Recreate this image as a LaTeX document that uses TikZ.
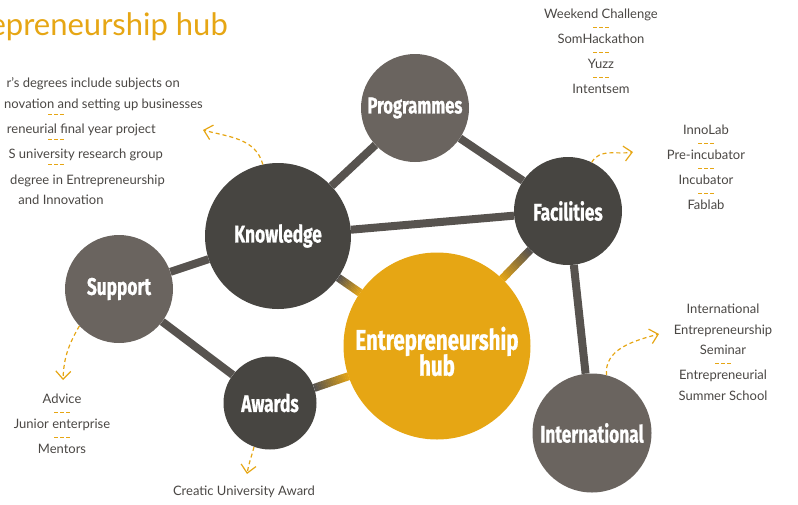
\documentclass[tikz,border=0pt]{standalone}
\usepackage{fontspec}
\setmainfont{Lato}
\newfontfamily\topicfont[FakeStretch=0.72, BoldFeatures={FakeBold=0.8}]{Fira Sans}
\usetikzlibrary{positioning,arrows.meta,backgrounds,calc}

\definecolor{hubgold}{HTML}{E6A614}
\definecolor{darknode}{HTML}{474541}
\definecolor{lightnode}{HTML}{6A645F}
\definecolor{linkgray}{HTML}{57534F}
\definecolor{itemgray}{HTML}{4A4744}

\newcommand{\dashsep}{{\color{hubgold}\rule[2.8pt]{4pt}{1.5pt}\hspace{2pt}\rule[2.8pt]{4pt}{1.5pt}\hspace{2pt}\rule[2.8pt]{4pt}{1.5pt}}}

\begin{document}
\begin{tikzpicture}[
      x=1pt, y=1pt,
      topic/.style = {
        circle,
        inner sep=0pt,
        text=white,
        align=center,
        font=\topicfont\bfseries\fontsize{24}{24}\selectfont
      },
      dark/.style = {
        topic,
        fill=darknode
      },
      light/.style = {
        topic,
        fill=lightnode
      },
      link/.style = {
        line width=8pt,
        draw=linkgray
      },
      hint/.style = {
        draw=hubgold,
        line width=1.2pt,
        dash pattern=on 4pt off 3pt,
        -{Straight Barb[length=8pt,width=15pt]}
      },
      item/.style = {
        text=itemgray,
        align=center,
        inner sep=0pt,
        font=\fontsize{13}{20.5}\selectfont
      }
    ]
    \useasboundingbox (0,0) rectangle (798,-504);
    \clip (0,0) rectangle (798,-504);

    % title, cut at the left edge
    \node[anchor=base east, inner sep=0pt, text=hubgold,
      font=\fontsize{31}{31}\selectfont] (title) at (228,-35) {Entrepreneurship hub};

    % circles
    \node[light, minimum size=108pt, font=\topicfont\bfseries\fontsize{23}{23}\selectfont]
      (p) at (415,-108) {Programmes};
    \node[dark, minimum size=146pt] (k) at (278,-236) {Knowledge};
    \node[dark, minimum size=108pt] (f) at (568,-211) {Facilities};
    \node[light, minimum size=108pt] (s) at (119,-289) {Support};
    \node[dark, minimum size=93pt] (w) at (270,-403) {Awards};
    \node[light, minimum size=119pt] (i) at (592,-433) {International};
    \node[topic, fill=hubgold, minimum size=187pt, font=\topicfont\bfseries\fontsize{28.5}{25}\selectfont]
      (hub) at (437,-346) {\rule{0pt}{34pt}Entrepreneurship\\[-3pt]hub};

    % links
    \begin{scope}[on background layer]
      \draw[link] (p) -- (k);
      \draw[link] (p) -- (f);
      \draw[link] (k) -- (f);
      \draw[link] (k) -- (s);
      \draw[link] (s) -- (w);
      \draw[link] (f) -- (i);
      \foreach \a in {k,f,w} {
        \path (\a) -- (hub) coordinate[pos=0] (\a0) coordinate[pos=1] (\a1);
        \foreach \i [evaluate=\i as \mix using int(\i*5)] in {0,...,19}
          \draw[line width=8pt, draw=hubgold!\mix!linkgray]
            ($(\a0)!\i/20!(\a1)$) -- ($(\a0)!\i/20+0.06!(\a1)$);
      }
    \end{scope}

    % lists
    \node[item, anchor=base east] (kn1) at (180,-87.5) {r’s degrees include subjects on};
    \node[item, anchor=base east] (kn2) at (203,-108.5) {novation and setting up businesses};
    \node[item] (kd1) at (56,-116) {\dashsep};
    \node[item, anchor=base east] (kn3) at (156,-133.5) {reneurial final year project};
    \node[item] (kd2) at (56,-141) {\dashsep};
    \node[item, anchor=base east] (kn4) at (163,-158.5) {S university research group};
    \node[item] (kd3) at (56,-166) {\dashsep};
    \node[item, anchor=base east] (kn5) at (165,-184.5) {degree in Entrepreneurship};
    \node[item, anchor=base] (kn6) at (61,-204.5) {and Innovation};

    \node[item, anchor=north] (pl) at (601,-9)
      {Weekend Challenge\\[-8pt]\dashsep\\[-8pt]SomHackathon\\[-8pt]\dashsep\\[-8pt]Yuzz\\[-8pt]\dashsep\\[-8pt]Intentsem};
    \node[item, anchor=north] (fl) at (706,-125)
      {InnoLab\\[-8pt]\dashsep\\[-8pt]Pre-incubator\\[-8pt]\dashsep\\[-8pt]Incubator\\[-8pt]\dashsep\\[-8pt]Fablab};
    \node[item, anchor=north] (il) at (723,-304)
      {International\\Entrepreneurship\\Seminar\\[-8pt]\dashsep\\[-8pt]Entrepreneurial\\Summer School};
    \node[item, anchor=north] (sl) at (62,-394)
      {Advice\\[-8pt]\dashsep\\[-8pt]Junior enterprise\\[-8pt]\dashsep\\[-8pt]Mentors};
    \node[item, anchor=base] (wl) at (244,-495.5) {Creatic University Award};

    % pointers
    \coordinate (kt) at (203,-130);
    \coordinate (ft) at (633,-152);
    \coordinate (it) at (659,-334);
    \coordinate (st) at (63,-380);
    \coordinate (wt) at (247,-474);
    \draw[hint] (k.102) to[out=105, in=-15] (kt);
    \draw[hint] (f.64) to[out=60, in=190] (ft);
    \draw[hint] (i.76) to[out=95, in=195] (it);
    \draw[hint] (s.223) to[out=240, in=88] (st);
    \draw[hint] (w.250) to[out=255, in=80] (wt);
  \end{tikzpicture}
\end{document}
